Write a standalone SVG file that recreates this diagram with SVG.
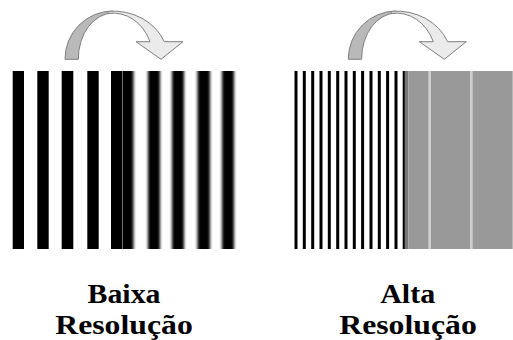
<svg xmlns="http://www.w3.org/2000/svg" width="513" height="340" viewBox="0 0 513 340">
  <style>
    .bar { fill: #000; }
    .lbl { font-family: "Liberation Serif", "Times New Roman", serif; font-weight: bold; font-size: 28px; fill: #000; text-anchor: middle; }
    .back { fill: #b9b9b9; stroke: #7f7f7f; stroke-width: 1; }
    .front { fill: #ebebeb; stroke: #7f7f7f; stroke-width: 1; stroke-linejoin: miter; }
  </style>
  <defs>
    <filter id="hblur" filterUnits="userSpaceOnUse" x="100" y="60" width="160" height="200">
      <feGaussianBlur stdDeviation="1.6 0.01"/>
    </filter>
    <clipPath id="blurClip">
      <rect x="122.7" y="71" width="116" height="178"/>
    </clipPath>
    <g id="curvedArrow">
      <path class="back" d="M65,59.3 A48,48 0 0 1 113,11 L113,13 A35,46 0 0 0 78.3,59.3 Z"/>
      <path class="front" d="M108,11.3 A55,48 0 0 1 164.3,41.7 L183,41.7 L161,59.3 L136,41.7 L150,41.7 A40,46 0 0 0 108,13.4 Z"/>
    </g>
  </defs>
  <rect width="513" height="340" fill="#fff"/>

  <g id="connectors">
    <use id="arrow-left" href="#curvedArrow"/>
    <use id="arrow-right" href="#curvedArrow" transform="translate(283.3,0)"/>
  </g>

  <g id="panel-low">
    <rect class="bar" x="12.7" y="71" width="11.3" height="178"/>
    <rect class="bar" x="37.3" y="71" width="11.4" height="178"/>
    <rect class="bar" x="61.7" y="71" width="11.6" height="178"/>
    <rect class="bar" x="87.3" y="71" width="11.4" height="178"/>
    <rect class="bar" x="111" y="71" width="11.3" height="178"/>
    <line x1="122.5" y1="71" x2="122.5" y2="249" stroke="#999" stroke-width="0.8"/>
    <g clip-path="url(#blurClip)">
      <g filter="url(#hblur)">
        <rect class="bar" x="112" y="65" width="21.5" height="190"/>
        <rect class="bar" x="148" y="65" width="12" height="190"/>
        <rect class="bar" x="172" y="65" width="12" height="190"/>
        <rect class="bar" x="197.5" y="65" width="12.5" height="190"/>
        <rect class="bar" x="222" y="65" width="12" height="190"/>
      </g>
    </g>
  </g>

  <g id="panel-high">
    <rect class="bar" x="294.5" y="71" width="3" height="178"/>
    <rect class="bar" x="302.8" y="71" width="3" height="178"/>
    <rect class="bar" x="311.2" y="71" width="3" height="178"/>
    <rect class="bar" x="319.5" y="71" width="3" height="178"/>
    <rect class="bar" x="327.8" y="71" width="3" height="178"/>
    <rect class="bar" x="336.2" y="71" width="3" height="178"/>
    <rect class="bar" x="344.5" y="71" width="3" height="178"/>
    <rect class="bar" x="352.8" y="71" width="3" height="178"/>
    <rect class="bar" x="361.1" y="71" width="3" height="178"/>
    <rect class="bar" x="369.5" y="71" width="3" height="178"/>
    <rect class="bar" x="377.8" y="71" width="3" height="178"/>
    <rect class="bar" x="386.1" y="71" width="3" height="178"/>
    <rect class="bar" x="394.5" y="71" width="3" height="178"/>
    <rect class="bar" x="402.7" y="71" width="2.2" height="178"/>
    <rect x="404.9" y="71" width="3.4" height="178" fill="#777"/>
    <rect x="408.3" y="71" width="104.4" height="178" fill="#999"/>
    <rect x="428.3" y="71" width="2.7" height="178" fill="#cdcdcd"/>
    <rect x="470" y="71" width="2.7" height="178" fill="#cdcdcd"/>
  </g>

  <g id="label-low">
    <text class="lbl" x="124" y="302.5" textLength="73" lengthAdjust="spacingAndGlyphs">Baixa</text>
    <text class="lbl" x="124" y="334" textLength="137.5" lengthAdjust="spacingAndGlyphs">Resolução</text>
  </g>
  <g id="label-high">
    <text class="lbl" x="407.7" y="302.5" textLength="55" lengthAdjust="spacingAndGlyphs">Alta</text>
    <text class="lbl" x="408" y="334" textLength="137.5" lengthAdjust="spacingAndGlyphs">Resolução</text>
  </g>
</svg>
